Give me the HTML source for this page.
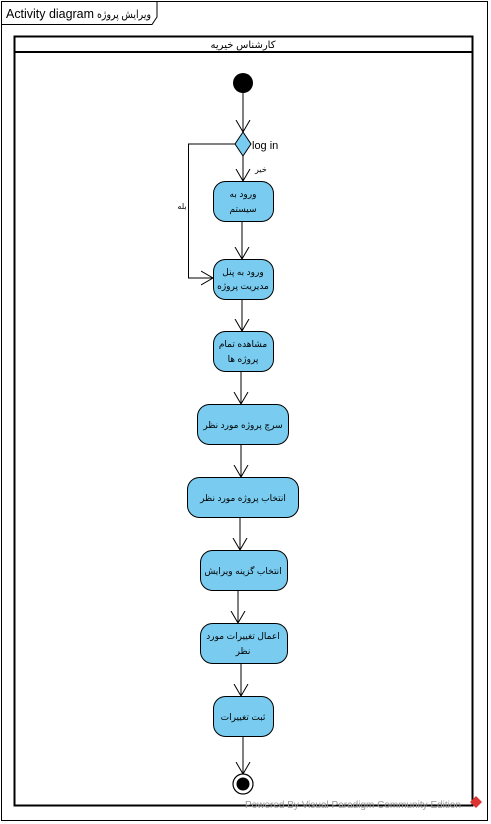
<!DOCTYPE html>
<html><head><meta charset="utf-8"><style>
html,body{margin:0;padding:0;background:#fff;width:491px;height:824px;overflow:hidden}
svg text{font-family:"Liberation Sans","DejaVu Sans",sans-serif}
</style></head><body>
<svg width="491" height="824" viewBox="0 0 491 824" xmlns="http://www.w3.org/2000/svg">
<defs>
<marker id="a" markerWidth="14" markerHeight="16" refX="12" refY="8" orient="auto" markerUnits="userSpaceOnUse">
<path d="M0,1 L12,8 L0,15" fill="none" stroke="#000" stroke-width="1"/>
</marker>
</defs>
<rect x="1.5" y="1.5" width="486" height="819" fill="#fff" stroke="#000" stroke-width="1"/>
<path d="M1.5,24.5 H152 L157,17 V1.5" fill="none" stroke="#000"/>
<text x="6" y="18" font-size="13" textLength="88" lengthAdjust="spacingAndGlyphs">Activity diagram</text>
<text x="97" y="18" font-size="11" font-family="DejaVu Sans" textLength="54" lengthAdjust="spacingAndGlyphs">ویرایش پروژه</text>
<rect x="14.5" y="36.5" width="458" height="769" fill="none" stroke="#000" stroke-width="2"/>
<line x1="14.5" y1="52" x2="472.5" y2="52" stroke="#000" stroke-width="2"/>
<text x="243" y="48" font-size="10" text-anchor="middle" font-family="DejaVu Sans">کارشناس خیریه</text>
<circle cx="243" cy="83" r="10" fill="#000"/>
<line x1="243" y1="93" x2="243" y2="132" stroke="#000" marker-end="url(#a)"/>
<polygon points="243,132 251,144 243,156 235,144" fill="#79CCF0" stroke="#000"/>
<text x="252" y="149" font-size="11">log in</text>
<line x1="243" y1="156" x2="243" y2="181" stroke="#000" marker-end="url(#a)"/>
<text x="255" y="172" font-size="8" font-family="DejaVu Sans">خیر</text>
<polyline points="235,144 188.5,144 188.5,278 213,278" fill="none" stroke="#000" marker-end="url(#a)"/>
<text x="182" y="209" font-size="8" text-anchor="middle" font-family="DejaVu Sans">بله</text>
<g stroke="#000" fill="#79CCF0">
<rect x="213.5" y="181.5" width="60" height="40" rx="12"/>
<rect x="213.5" y="259.5" width="60" height="40" rx="12"/>
<rect x="213.5" y="331.5" width="60" height="40" rx="12"/>
<rect x="197.5" y="404.5" width="91" height="40" rx="12"/>
<rect x="187.5" y="477.5" width="111" height="40" rx="12"/>
<rect x="200.5" y="550.5" width="87" height="40" rx="12"/>
<rect x="200.5" y="623.5" width="87" height="40" rx="12"/>
<rect x="213.5" y="696.5" width="60" height="40" rx="12"/>
</g>
<g stroke="#000">
<line x1="242" y1="221" x2="242" y2="259" marker-end="url(#a)"/>
<line x1="242" y1="299" x2="242" y2="331" marker-end="url(#a)"/>
<line x1="241" y1="371" x2="241" y2="404" marker-end="url(#a)"/>
<line x1="241" y1="444" x2="241" y2="477" marker-end="url(#a)"/>
<line x1="240" y1="517" x2="240" y2="550" marker-end="url(#a)"/>
<line x1="238" y1="590" x2="238" y2="623" marker-end="url(#a)"/>
<line x1="241" y1="663" x2="241" y2="696" marker-end="url(#a)"/>
<line x1="243" y1="736" x2="243" y2="774" marker-end="url(#a)"/>
</g>
<g font-size="9" text-anchor="middle" font-family="DejaVu Sans" fill="#000">
<text x="243" y="197">ورود به</text><text x="243" y="212">سیستم</text>
<text x="243" y="275">ورود به پنل</text><text x="243" y="289">مدیریت پروژه</text>
<text x="243" y="347">مشاهده تمام</text><text x="243" y="362">پروژه ها</text>
<text x="243" y="428">سرچ پروژه مورد نظر</text>
<text x="243" y="501">انتخاب پروژه مورد نظر</text>
<text x="243" y="574">انتخاب گزینه ویرایش</text>
<text x="243" y="639">اعمال تغییرات مورد</text><text x="243" y="654">نظر</text>
<text x="243" y="720">ثبت تغییرات</text>
</g>
<circle cx="243" cy="784" r="10" fill="#fff" stroke="#000" stroke-width="1.2"/>
<circle cx="243" cy="784" r="6.5" fill="#000"/>
<text x="245" y="808" font-size="10" fill="#999">Powered By Visual Paradigm Community Edition</text>
<polygon points="476,796 482,802 476,808 470,802" fill="#d33"/>
</svg>
</body></html>
